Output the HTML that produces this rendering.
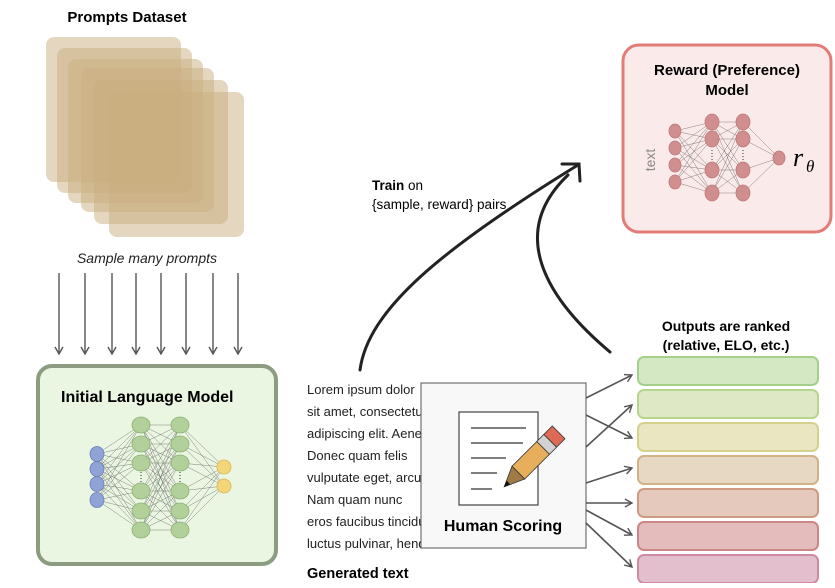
<!DOCTYPE html>
<html><head><meta charset="utf-8"><style>
body{margin:0;background:#fff;width:835px;height:583px;overflow:hidden;font-family:"Liberation Sans",sans-serif}
</style></head><body>
<svg id="s" width="835" height="583" viewBox="0 0 835 583" xmlns="http://www.w3.org/2000/svg" font-family="Liberation Sans, sans-serif">
<defs>
<marker id="ah" markerWidth="10" markerHeight="10" refX="8" refY="5" orient="auto" markerUnits="userSpaceOnUse"><path d="M1 1 L8 5 L1 9" fill="none" stroke="#555" stroke-width="1.4"/></marker>
</defs>
<text x="127" y="22" font-size="15" font-weight="bold" text-anchor="middle">Prompts Dataset</text>
<g fill="#c9ad7f" fill-opacity="0.5">
<rect x="46" y="37" width="135" height="145" rx="8"/>
<rect x="57" y="48" width="135" height="145" rx="8"/>
<rect x="68" y="59" width="135" height="144" rx="8"/>
<rect x="81" y="68" width="133" height="144" rx="8"/>
<rect x="94" y="80" width="134" height="144" rx="8"/>
<rect x="109" y="92" width="135" height="145" rx="8"/>
</g>
<text x="147" y="263" font-size="14" font-style="italic" text-anchor="middle" fill="#222">Sample many prompts</text>
<g stroke="#555" stroke-width="1.4" marker-end="url(#ah)">
<line x1="59" y1="273" x2="59" y2="354"/><line x1="85" y1="273" x2="85" y2="354"/>
<line x1="112" y1="273" x2="112" y2="354"/><line x1="136" y1="273" x2="136" y2="354"/>
<line x1="161" y1="273" x2="161" y2="354"/><line x1="186" y1="273" x2="186" y2="354"/>
<line x1="213" y1="273" x2="213" y2="354"/><line x1="238" y1="273" x2="238" y2="354"/>
</g>
<rect x="38" y="366" width="238" height="198" rx="14" fill="#eaf6e1" stroke="#8c9c80" stroke-width="4"/>
<text x="61" y="402" font-size="16" font-weight="bold">Initial Language Model</text>
<g id="nn1"></g>
<rect x="623" y="45" width="208" height="187" rx="16" fill="#fbeaea" stroke="#e27c77" stroke-width="3"/>
<text x="727" y="75" font-size="15" font-weight="bold" text-anchor="middle">Reward (Preference)</text>
<text x="727" y="95" font-size="15" font-weight="bold" text-anchor="middle">Model</text>
<g id="nn2"></g>
<text x="655" y="160" font-size="14" fill="#888" text-anchor="middle" transform="rotate(-90 655 160)">text</text>
<text x="793" y="166" font-size="26" font-style="italic" font-family="Liberation Serif, serif">r</text>
<text x="806" y="172" font-size="17" font-style="italic" font-family="Liberation Serif, serif">θ</text>
<text x="372" y="190" font-size="13.5"><tspan font-weight="bold">Train</tspan> on</text>
<text x="372" y="209" font-size="13.5">{sample, reward} pairs</text>
<g fill="none" stroke="#222" stroke-width="3" stroke-linecap="round">
<path d="M360 370 C 368 310, 440 250, 578 165"/>
<path d="M610 352 C 560 310, 500 240, 568 175"/>
<path d="M562 164 L579 164 L580 181"/>
</g>
<g font-size="13" fill="#222">
<text x="307" y="394">Lorem ipsum dolor</text>
<text x="307" y="416">sit amet, consectetur</text>
<text x="307" y="438">adipiscing elit. Aenean</text>
<text x="307" y="460">Donec quam felis</text>
<text x="307" y="482">vulputate eget, arcu</text>
<text x="307" y="504">Nam quam nunc</text>
<text x="307" y="526">eros faucibus tincidunt</text>
<text x="307" y="548">luctus pulvinar, hendrerit</text>
</g>
<text x="307" y="578" font-size="14.5" font-weight="bold">Generated text</text>
<rect x="421" y="383" width="165" height="165" fill="#f8f8f8" stroke="#555" stroke-width="1"/>
<rect x="459" y="412" width="79" height="93" fill="#fff" stroke="#444" stroke-width="1.2"/>
<g stroke="#333" stroke-width="1.2">
<line x1="471" y1="428" x2="526" y2="428"/><line x1="471" y1="443" x2="523" y2="443"/>
<line x1="471" y1="458" x2="506" y2="458"/><line x1="471" y1="473" x2="497" y2="473"/>
<line x1="471" y1="489" x2="492" y2="489"/>
</g>
<g transform="translate(553 438) rotate(45)">
<rect x="-9" y="-8" width="18" height="12" fill="#dc6a55" stroke="#333" stroke-width="0.8"/>
<rect x="-9" y="4" width="18" height="10" fill="#d2d2d2" stroke="#333" stroke-width="0.8"/>
<rect x="-9" y="14" width="18" height="35" fill="#e7ae5c" stroke="#333" stroke-width="0.8"/>
<path d="M-9 49 L9 49 L0 69 Z" fill="#a07a45" stroke="#333" stroke-width="0.8"/>
<path d="M-2.7 63 L2.7 63 L0 69 Z" fill="#111"/>
</g>
<text x="503" y="531" font-size="16" font-weight="bold" text-anchor="middle">Human Scoring</text>
<text x="726" y="331" font-size="14" font-weight="bold" text-anchor="middle">Outputs are ranked</text>
<text x="726" y="350" font-size="14" font-weight="bold" text-anchor="middle">(relative, ELO, etc.)</text>
<g stroke-width="2">
<rect x="638" y="357" width="180" height="28" rx="6" fill="#d4e8c3" stroke="#a5d08a"/>
<rect x="638" y="390" width="180" height="28" rx="6" fill="#dfe8c5" stroke="#b7d68d"/>
<rect x="638" y="423" width="180" height="28" rx="6" fill="#ebe6c2" stroke="#d5d18a"/>
<rect x="638" y="456" width="180" height="28" rx="6" fill="#e6d8c3" stroke="#d2b286"/>
<rect x="638" y="489" width="180" height="28" rx="6" fill="#e6c9bd" stroke="#cf9a82"/>
<rect x="638" y="522" width="180" height="28" rx="6" fill="#e3bcbb" stroke="#cd8686"/>
<rect x="638" y="555" width="180" height="28" rx="6" fill="#e3bfcd" stroke="#cf8aa6"/>
</g>
<g stroke="#555" stroke-width="1.6" marker-end="url(#ah)">
<line x1="586" y1="398" x2="632" y2="375"/>
<line x1="586" y1="415" x2="632" y2="438"/>
<line x1="586" y1="447" x2="632" y2="405"/>
<line x1="586" y1="483" x2="632" y2="468"/>
<line x1="586" y1="503" x2="632" y2="503"/>
<line x1="586" y1="510" x2="632" y2="535"/>
<line x1="586" y1="523" x2="632" y2="567"/>
</g>
</svg>
<script>
var NS="http://www.w3.org/2000/svg";
function el(g,t,a){var e=document.createElementNS(NS,t);for(var k in a)e.setAttribute(k,a[k]);g.appendChild(e);return e;}
function net(id,layers,opts){
 var g=document.getElementById(id);
 for(var i=0;i<layers.length-1;i++){var A=layers[i],B=layers[i+1];
  A.ys.forEach(function(y1){B.ys.forEach(function(y2){el(g,"line",{x1:A.x,y1:y1,x2:B.x,y2:y2,stroke:"#666","stroke-width":0.5,"stroke-opacity":0.8});});});}
 layers.forEach(function(L){L.ys.forEach(function(y){el(g,"ellipse",{cx:L.x,cy:y,rx:L.rx,ry:L.ry,fill:L.f,stroke:L.s,"stroke-width":0.8});});
  if(L.dots){el(g,"line",{x1:L.x,y1:L.dots[0],x2:L.x,y2:L.dots[1],stroke:"#333","stroke-width":1,"stroke-dasharray":"1 2"});}});
}
var gy=[425,444,463,491,511,530];
net("nn1",[{x:97,ys:[454,469,484,500],rx:7,ry:7.5,f:"#8fa3d6",s:"#6a7fb8"},
 {x:141,ys:gy,rx:9,ry:8,f:"#b1d09a",s:"#8bb176",dots:[472,482]},
 {x:180,ys:gy,rx:9,ry:8,f:"#b1d09a",s:"#8bb176",dots:[472,482]},
 {x:224,ys:[467,486],rx:7,ry:7,f:"#f5d57a",s:"#d9b65a"}]);
var ry=[122,139,170,193];
net("nn2",[{x:675,ys:[131,148,165,182],rx:6,ry:7,f:"#d08e8e",s:"#c07777"},
 {x:712,ys:ry,rx:7,ry:8,f:"#d08e8e",s:"#c07777",dots:[150,160]},
 {x:743,ys:ry,rx:7,ry:8,f:"#d08e8e",s:"#c07777",dots:[150,160]},
 {x:779,ys:[158],rx:6,ry:7,f:"#d08e8e",s:"#c07777"}]);
</script>
</body></html>
